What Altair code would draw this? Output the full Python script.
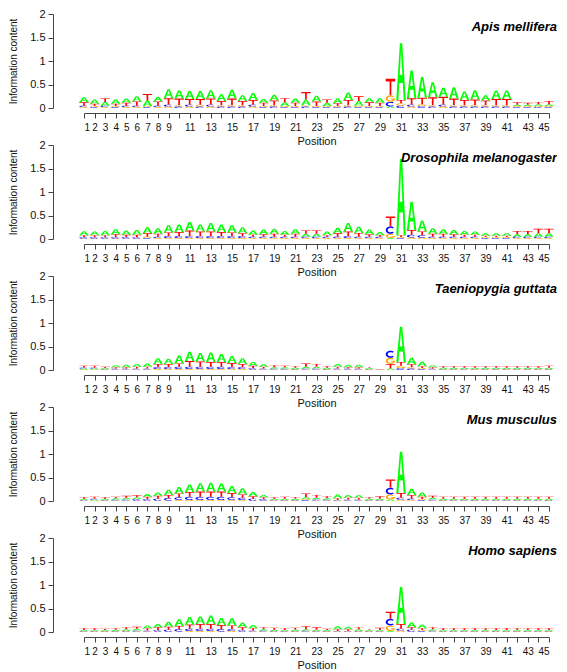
import math
import altair as alt
import pandas as pd

alt.data_transformers.disable_max_rows()

positions = list(range(1, 46))
shown_labels = [1, 2, 3, 4, 5, 6, 7, 8, 9] + list(range(11, 46, 2))
y_ticks = [0, 0.5, 1, 1.5, 2]
letters = ["A", "C", "G", "T"]
letter_colors = ["#00FF00", "#0000FF", "#FFA500", "#FF0000"]

species_names = ["Apis mellifera", "Drosophila melanogaster", "Taeniopygia guttata",
                 "Mus musculus", "Homo sapiens"]

# information content (bits) per letter and position
apis_A = [.11,.09,.08,.09,.09,.11,.12,.10,.19,.17,.17,.17,.18,.14,.19,.12,.15,.08,.12,.08,
          .09,.12,.12,.07,.10,.16,.10,.09,.10,.03,1.21,.59,.44,.32,.19,.24,.18,.20,.11,.18,
          .18,.03,.03,.04,.04]
apis_T = [.07,.05,.08,.05,.06,.09,.14,.09,.14,.14,.12,.12,.13,.09,.14,.09,.10,.07,.10,.09,
          .07,.16,.10,.07,.06,.11,.10,.08,.07,.35,.07,.14,.14,.17,.17,.14,.11,.12,.10,.13,
          .13,.05,.04,.05,.07]
apis_C = [.03,.02,.03,.02,.03,.03,.02,.03,.04,.03,.04,.03,.04,.03,.03,.03,.04,.02,.03,.02,
          .02,.03,.02,.02,.02,.03,.02,.02,.02,.10,.05,.04,.04,.03,.04,.03,.03,.03,.03,.03,
          .03,.02,.02,.02,.02]
apis_G = [.02,.02,.02,.02,.02,.02,.02,.02,.03,.03,.03,.04,.03,.03,.03,.03,.03,.02,.03,.02,
          .02,.03,.02,.02,.02,.03,.03,.02,.02,.14,.05,.03,.04,.03,.03,.03,.03,.03,.03,.03,
          .03,.02,.02,.02,.02]

dros_A = [.085,.08,.09,.11,.09,.10,.13,.12,.15,.16,.18,.15,.18,.16,.15,.13,.09,.10,.11,.08,
          .10,.06,.06,.08,.12,.18,.13,.10,.07,.02,1.62,.60,.23,.12,.10,.09,.08,.07,.05,.05,
          .06,.05,.05,.07,.07]
dros_T = [.04,.04,.04,.06,.05,.05,.07,.06,.08,.09,.12,.10,.10,.09,.08,.06,.04,.05,.06,.04,
          .06,.07,.07,.03,.07,.10,.08,.05,.03,.21,.04,.10,.08,.06,.06,.05,.04,.04,.03,.03,
          .03,.07,.07,.10,.10]
dros_C = [.03,.03,.03,.03,.03,.03,.02,.03,.04,.04,.04,.04,.04,.04,.04,.04,.03,.03,.03,.03,
          .03,.03,.03,.03,.03,.04,.03,.03,.03,.16,.02,.06,.05,.03,.03,.03,.03,.03,.02,.02,
          .02,.03,.03,.03,.03]
dros_G = [.01,.01,.01,.01,.01,.01,.03,.02,.02,.02,.02,.02,.02,.02,.02,.02,.02,.02,.02,.02,
          .02,.02,.02,.02,.02,.02,.02,.02,.02,.09,.02,.03,.03,.02,.02,.02,.02,.02,.02,.02,
          .02,.02,.02,.02,.02]

taen_A = [.02,.02,.02,.04,.05,.06,.07,.12,.11,.17,.20,.18,.20,.17,.15,.12,.08,.05,.03,.03,
          .03,.04,.04,.03,.06,.05,.05,.02,.01,.03,.75,.14,.10,.04,.03,.03,.03,.03,.03,.03,
          .03,.03,.03,.03,.03]
taen_T = [.04,.04,.03,.03,.03,.04,.04,.07,.07,.07,.12,.11,.10,.10,.09,.07,.05,.04,.04,.03,
          .03,.07,.06,.03,.04,.03,.03,.02,.01,.10,.08,.06,.04,.03,.03,.03,.03,.03,.03,.03,
          .03,.03,.03,.03,.04]
taen_C = [.02,.02,.01,.02,.02,.02,.02,.04,.04,.05,.05,.05,.05,.05,.04,.04,.03,.02,.02,.02,
          .01,.02,.02,.01,.02,.02,.02,.01,.00,.15,.04,.03,.02,.02,.01,.01,.01,.01,.01,.01,
          .01,.01,.01,.01,.01]
taen_G = [.01,.01,.01,.01,.01,.01,.01,.02,.02,.02,.02,.02,.02,.02,.02,.02,.01,.01,.01,.01,
          .01,.01,.01,.01,.01,.01,.01,.01,.00,.13,.05,.03,.02,.01,.01,.01,.01,.01,.01,.01,
          .01,.01,.01,.01,.01]

mus_A = [.02,.02,.02,.03,.04,.04,.06,.07,.11,.14,.16,.18,.19,.17,.15,.13,.09,.05,.03,.03,
         .03,.04,.04,.03,.08,.06,.06,.03,.03,.03,.88,.13,.09,.04,.03,.03,.03,.03,.03,.03,
         .03,.03,.03,.03,.03]
mus_T = [.04,.04,.04,.03,.04,.04,.05,.06,.07,.08,.10,.11,.11,.11,.09,.07,.05,.04,.03,.04,
         .03,.08,.06,.04,.04,.04,.04,.03,.05,.18,.10,.08,.05,.04,.04,.04,.04,.04,.04,.04,
         .04,.04,.04,.04,.04]
mus_C = [.01,.02,.01,.02,.02,.03,.03,.04,.05,.06,.07,.07,.07,.07,.06,.05,.04,.03,.01,.01,
         .01,.02,.02,.02,.01,.02,.02,.01,.01,.14,.04,.03,.02,.02,.01,.01,.01,.01,.01,.01,
         .01,.01,.01,.01,.01]
mus_G = [.01,.01,.01,.01,.01,.01,.01,.01,.01,.02,.02,.02,.02,.02,.02,.02,.01,.01,.01,.01,
         .01,.02,.01,.01,.01,.01,.01,.01,.01,.11,.03,.02,.02,.01,.01,.01,.01,.01,.01,.01,
         .01,.01,.01,.01,.01]

homo_A = [.02,.02,.02,.03,.04,.04,.06,.07,.11,.14,.16,.16,.18,.15,.15,.10,.07,.03,.03,.02,
          .03,.03,.03,.02,.06,.05,.04,.02,.02,.02,.79,.10,.08,.03,.02,.02,.02,.02,.02,.02,
          .02,.02,.02,.02,.02]
homo_T = [.04,.04,.03,.03,.04,.04,.05,.06,.06,.07,.09,.10,.10,.09,.08,.06,.05,.04,.04,.04,
          .04,.06,.05,.03,.04,.04,.04,.02,.05,.15,.10,.05,.04,.04,.04,.04,.04,.04,.04,.04,
          .04,.04,.04,.04,.04]
homo_C = [.01,.01,.01,.01,.01,.02,.02,.03,.04,.05,.05,.05,.05,.05,.04,.03,.02,.02,.01,.01,
          .01,.02,.01,.01,.01,.01,.01,.01,.01,.14,.04,.04,.02,.02,.01,.01,.01,.01,.01,.01,
          .01,.01,.01,.01,.01]
homo_G = [.01,.01,.01,.01,.01,.01,.01,.01,.01,.01,.02,.02,.02,.01,.02,.01,.01,.01,.01,.01,
          .01,.01,.01,.01,.01,.01,.01,.01,.01,.12,.03,.01,.02,.01,.01,.01,.01,.01,.01,.01,
          .01,.01,.01,.01,.01]

species_data = [
    {"A": apis_A, "C": apis_C, "G": apis_G, "T": apis_T},
    {"A": dros_A, "C": dros_C, "G": dros_G, "T": dros_T},
    {"A": taen_A, "C": taen_C, "G": taen_G, "T": taen_T},
    {"A": mus_A, "C": mus_C, "G": mus_G, "T": mus_T},
    {"A": homo_A, "C": homo_C, "G": homo_G, "T": homo_T},
]


# ---- letter outlines in a unit box (glyph style templates) ----
def arc(r, a0, a1, n):
    return [(0.5 + r * math.cos(math.radians(a0 + (a1 - a0) * i / n)),
             0.5 + r * math.sin(math.radians(a0 + (a1 - a0) * i / n))) for i in range(n + 1)]


GLYPHS = {
    "A": [(0, 0), (0.38, 1), (0.62, 1), (1, 0), (0.78, 0), (0.685, 0.3), (0.315, 0.3),
          (0.22, 0), (0, 0), (0.36, 0.44), (0.64, 0.44), (0.5, 0.86), (0.36, 0.44), (0, 0)],
    "C": arc(0.5, 45, 315, 14) + arc(0.3, 315, 45, 14),
    "G": arc(0.5, 45, 360, 16) + [(0.55, 0.5), (0.55, 0.38)] + arc(0.3, 336, 45, 14),
    "T": [(0, 1), (1, 1), (1, 0.84), (0.59, 0.84), (0.59, 0), (0.41, 0), (0.41, 0.84), (0, 0.84)],
}

W = 465
H = 94
GW = 0.9


def logo_frame(data):
    rows = []
    gid = 0
    for i, pos in enumerate(positions):
        heights = sorted(((data[l][i], l) for l in letters), key=lambda t: t[0])
        base = 0.0
        for h, l in heights:
            if h <= 0:
                continue
            for k, (u, v) in enumerate(GLYPHS[l]):
                rows.append({"x": pos - GW / 2 + GW * u, "y": base + h * v,
                             "gid": gid, "k": k, "letter": l})
            gid += 1
            base += h
    return pd.DataFrame(rows)


label_list = ",".join(str(v) for v in shown_labels)

panels = []
for name, data in zip(species_names, species_data):
    df = logo_frame(data)
    logo = alt.Chart(df).mark_line(filled=True, strokeWidth=0, interpolate="linear").encode(
        x=alt.X("x:Q", scale=alt.Scale(domain=[1, 45], nice=False, zero=False),
                axis=alt.Axis(values=positions, labelExpr=f"indexof([{label_list}], datum.value) >= 0 ? datum.label : ''",
                              labelOverlap=False, tickSize=5, offset=5, grid=False, labelAngle=0,
                              domainColor="#444", tickColor="#444", labelColor="#111",
                              labelFontSize=10, labelPadding=4, title="Position",
                              titleFontSize=11, titleFontWeight="normal", titlePadding=3,
                              titleColor="#111", labelFont="Liberation Sans",
                              titleFont="Liberation Sans")),
        y=alt.Y("y:Q", scale=alt.Scale(domain=[0, 2], nice=False, zero=False),
                axis=alt.Axis(values=y_ticks, format="~g", tickSize=5, offset=31, grid=False,
                              domainColor="#444", tickColor="#444", labelColor="#111",
                              labelFontSize=11, labelPadding=3, title="Information content",
                              titleFontSize=10, titleFontWeight="normal", titlePadding=11,
                              titleColor="#111", labelFont="Liberation Sans",
                              titleFont="Liberation Sans")),
        detail="gid:N",
        order="k:Q",
        color=alt.Color("letter:N", scale=alt.Scale(domain=letters, range=letter_colors), legend=None),
    )
    title = alt.Chart(pd.DataFrame({"t": [name]})).mark_text(
        align="right", baseline="middle", fontSize=13, fontWeight="bold", fontStyle="italic",
        font="Liberation Sans", color="#000"
    ).encode(text="t:N", x=alt.value(W + 8), y=alt.value(13))
    panels.append(alt.layer(logo, title).properties(width=W, height=H))

chart = alt.vconcat(*panels, spacing=37, bounds="flush").properties(padding=0).configure_view(stroke=None)

chart.save("out.html", embed_options={"renderer": "svg", "actions": False})
